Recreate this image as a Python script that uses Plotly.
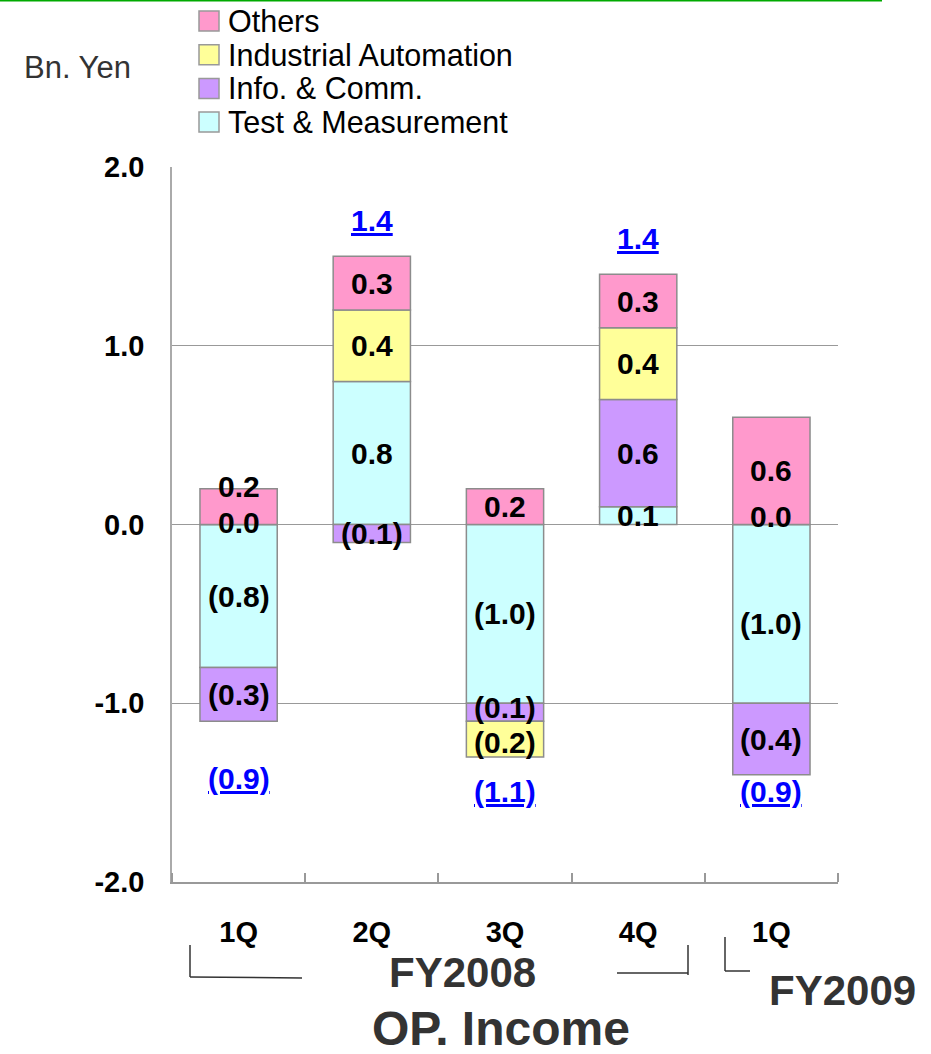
import plotly.graph_objects as go

# ---------------- data ----------------
categories = ["1Q FY2008", "2Q FY2008", "3Q FY2008", "4Q FY2008", "1Q FY2009"]
tick_labels = ["1Q", "2Q", "3Q", "4Q", "1Q"]
series_names = ["Test & Measurement", "Info. & Comm.", "Industrial Automation", "Others"]
test_measurement = [-0.8, 0.8, -1.0, 0.1, -1.0]
info_comm = [-0.3, -0.1, -0.1, 0.6, -0.4]
industrial_automation = [0.0, 0.4, -0.2, 0.4, 0.0]
others = [0.2, 0.3, 0.2, 0.3, 0.6]
totals = [-0.9, 1.4, -1.1, 1.4, -0.9]
y_ticks = [-2.0, -1.0, 0.0, 1.0, 2.0]

series_values = [test_measurement, info_comm, industrial_automation, others]
series_colors = ["#CCFFFF", "#CC99FF", "#FFFF99", "#FF99CC"]

W, H = 931, 1054
L, R, T, B = 172, 838, 167, 882
FONT = "Liberation Sans, Arial, sans-serif"


def px(xp):
    return (xp - L) / (R - L)


def py(yp):
    return (B - yp) / (B - T)


def fmt(v):
    if v < 0:
        return "(%.1f)" % abs(v)
    return "%.1f" % abs(v)


xs = list(range(len(categories)))
fig = go.Figure()
for name, vals, col in zip(series_names, series_values, series_colors):
    fig.add_trace(go.Bar(
        x=xs, y=vals, name=name, width=0.58,
        marker=dict(color=col, line=dict(color="#8C8C8C", width=1.5)),
        showlegend=False, hoverinfo="skip"))

annotations = []
# segment labels at segment centres (stacked like plotly's relative mode)
label_shift = {(3, 0): 20, (2, 4): 8, (2, 0): 2, (0, 4): -10, (1, 2): 5, (2, 2): -3}
pos_base = [0.0] * len(xs)
neg_base = [0.0] * len(xs)
for si, vals in enumerate(series_values):
    for i, v in enumerate(vals):
        if v >= 0:
            c = pos_base[i] + v / 2
            pos_base[i] += v
        else:
            c = neg_base[i] + v / 2
            neg_base[i] += v
        annotations.append(dict(
            x=xs[i], y=c, xref="x", yref="y", text="<b>%s</b>" % fmt(v),
            showarrow=False, yshift=label_shift.get((si, i), 0),
            xanchor="center", yanchor="middle",
            font=dict(family=FONT, size=30, color="black")))

# totals (blue, underlined)
total_shift = [-57, 36, -35, 36, -17]
for i, t in enumerate(totals):
    base = pos_base[i] if t >= 0 else neg_base[i]
    annotations.append(dict(
        x=xs[i], y=base, xref="x", yref="y", text="<b>%s</b>" % fmt(t),
        showarrow=False, yshift=total_shift[i], xanchor="center", yanchor="middle",
        font=dict(family=FONT, size=30, color="#0000FF", lineposition="under")))

# custom legend
legend_rows = [("Others", "#FF99CC"), ("Industrial Automation", "#FFFF99"),
               ("Info. & Comm.", "#CC99FF"), ("Test & Measurement", "#CCFFFF")]
shapes = []
for k, (nm, col) in enumerate(legend_rows):
    cy = 21 + k * 33.7
    shapes.append(dict(type="rect", xref="paper", yref="paper",
                       x0=px(199), x1=px(219), y0=py(cy + 10), y1=py(cy - 10),
                       fillcolor=col, line=dict(color="#999999", width=1.5)))
    annotations.append(dict(x=px(226), y=py(cy), xref="paper", yref="paper",
                            text=nm, showarrow=False, xanchor="left", yanchor="middle",
                            font=dict(family=FONT, size=30.5, color="black")))


def label(xc, yc, text, size, color="#333333"):
    annotations.append(dict(x=px(xc), y=py(yc), xref="paper", yref="paper", text=text,
                            showarrow=False, xanchor="center", yanchor="middle",
                            font=dict(family=FONT, size=size, color=color)))


label(77, 67, "Bn. Yen", 31)
label(462, 972, "<b>FY2008</b>", 42)
label(842, 990, "<b>FY2009</b>", 42)
label(501, 1028, "<b>OP. Income</b>", 48)

# brackets and top green line
def seg(x0, y0, x1, y1, color="#333333", w=1.5):
    shapes.append(dict(type="line", xref="paper", yref="paper",
                       x0=px(x0), y0=py(y0), x1=px(x1), y1=py(y1),
                       line=dict(color=color, width=w)))

seg(190, 945, 190, 977)
seg(190, 977, 302, 978)
seg(617, 973, 688, 973)
seg(688, 945, 688, 975)
seg(725, 937, 725, 971)
seg(725, 971, 750, 971)
seg(0, 0.8, 882, 0.8, color="#00AA00", w=1.6)

fig.update_layout(
    width=W, height=H,
    margin=dict(l=L, r=W - R, t=T, b=H - B),
    plot_bgcolor="white", paper_bgcolor="white",
    barmode="relative", bargap=0.42,
    annotations=annotations, shapes=shapes,
    font=dict(family=FONT),
)
fig.update_xaxes(
    range=[-0.5, len(xs) - 0.5], tickvals=xs, ticktext=["<b>%s</b>" % t for t in tick_labels],
    tickfont=dict(family=FONT, size=29, color="black"), ticks="", ticklabelstandoff=23,
    showline=True, linecolor="#999999", linewidth=1.5, showgrid=False, zeroline=False,
    minor=dict(tickvals=[i - 0.5 for i in range(len(xs) + 1)], ticks="inside",
               ticklen=9, tickcolor="#999999", tickwidth=1.5))
fig.update_yaxes(
    range=[-2, 2], tickvals=y_ticks, ticktext=["<b>%.1f</b>" % v for v in y_ticks],
    tickfont=dict(family=FONT, size=29, color="black"), ticklabelstandoff=20,
    showline=True, linecolor="#AAAAAA", linewidth=1.5,
    showgrid=True, gridcolor="#999999", gridwidth=1, zeroline=False)

fig.write_html("out.html")
